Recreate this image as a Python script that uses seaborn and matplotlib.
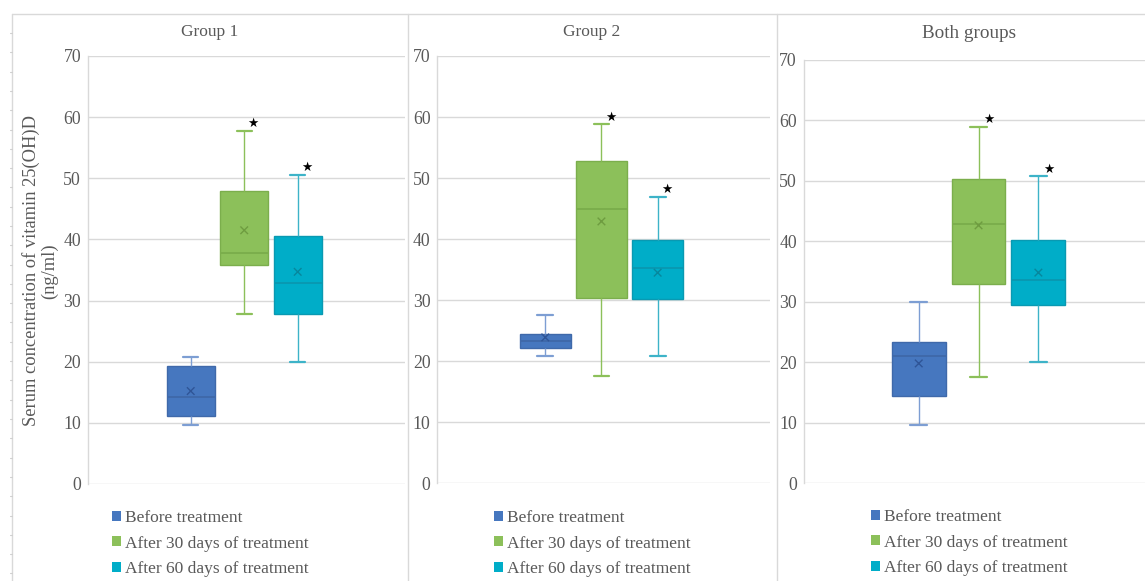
import numpy as np
import pandas as pd
import matplotlib
matplotlib.use("Agg")
import matplotlib.pyplot as plt
from matplotlib.patches import Patch
from matplotlib.lines import Line2D
import seaborn as sns

# ---------------- data ----------------
panels = ["Group 1", "Group 2", "Both groups"]
treatments = ["Before treatment", "After 30 days of treatment", "After 60 days of treatment"]

# five-number summaries: [min, Q1, median, Q3, max]
g1_before = [9.7, 11.2, 14.3, 19.3, 20.8]
g1_day30 = [27.8, 35.8, 37.7, 47.9, 57.8]
g1_day60 = [19.9, 27.8, 32.8, 40.5, 50.5]

g2_before = [20.9, 22.2, 23.3, 24.5, 27.5]
g2_day30 = [17.5, 30.3, 44.9, 52.8, 58.8]
g2_day60 = [20.9, 30.2, 35.3, 39.9, 46.9]

both_before = [9.7, 14.4, 21.0, 23.4, 30.0]
both_day30 = [17.5, 32.9, 42.8, 50.2, 58.9]
both_day60 = [20.0, 29.4, 33.5, 40.2, 50.7]

# means (the "x" markers)
g1_means = [15.2, 41.5, 34.7]
g2_means = [23.9, 42.9, 34.5]
both_means = [19.8, 42.6, 34.8]

# significance stars (only on treated series)
stars = [False, True, True]

y_ticks = [0, 10, 20, 30, 40, 50, 60, 70]

# ---------------- style ----------------
sns.set_theme(style="white")
plt.rcParams["font.family"] = ["Liberation Serif", "DejaVu Sans"]

fills = ["#4677BF", "#8CC05A", "#00ADC8"]
edges = ["#3F69AA", "#7BAE4C", "#0999B2"]
whisk = ["#7D9ED3", "#8CC05A", "#3DB3C8"]
meanc = ["#2F5597", "#6E9C40", "#07879D"]
txt = "#595959"
grid = "#D9D9D9"

W, H = 1145, 581
fig = plt.figure(figsize=(W / 100, H / 100), dpi=100)

def px_rect(left, top, right, bottom):
    return [left / W, 1 - bottom / H, (right - left) / W, (bottom - top) / H]

axes_px = [
    (88, 56, 404.7, 484),
    (437.4, 56, 770, 483.3),
    (803.9, 59.5, 1158, 483.3),
]
title_px = [(210, 31.5, 12.5), (592, 31.5, 12.5), (969, 33, 13.8)]
legend_px = [(112, 507), (494, 507), (871, 506)]

data_sets = [
    ([g1_before, g1_day30, g1_day60], g1_means),
    ([g2_before, g2_day30, g2_day60], g2_means),
    ([both_before, both_day30, both_day60], both_means),
]

for p, (summ, means) in enumerate(data_sets):
    ax = fig.add_axes(px_rect(*axes_px[p]))
    rows = []
    for t, vals in zip(treatments, summ):
        for v in vals:
            rows.append({"treatment": t, "value": v})
    df = pd.DataFrame(rows)
    for i, t in enumerate(treatments):
        sub = df[df["treatment"] == t]
        sns.boxplot(
            data=sub, x="treatment", y="value", order=treatments,
            color=fills[i], linecolor=edges[i], linewidth=1.0,
            whis=(0, 100), width=0.9, saturation=1, fliersize=0, ax=ax,
            medianprops=dict(color=edges[i], linewidth=1.4),
            whiskerprops=dict(color=whisk[i], linewidth=1.0),
            capprops=dict(color=whisk[i], linewidth=1.6),
            boxprops=dict(edgecolor=edges[i]),
        )
    # shorten caps to match reference
    for ln in ax.lines:
        xd = np.asarray(ln.get_xdata(), dtype=float)
        yd = np.asarray(ln.get_ydata(), dtype=float)
        if len(xd) == 2 and yd[0] == yd[1] and abs(xd[1] - xd[0]) > 0.3 and abs(xd[1] - xd[0]) < 0.6:
            c = xd.mean()
            ln.set_xdata([c - 0.14, c + 0.14])
    sns.scatterplot(x=np.arange(len(treatments)), y=means, hue=treatments,
                    palette=meanc, marker="x", s=30, linewidth=1.0,
                    legend=False, ax=ax, zorder=5)
    for i, vals in enumerate(summ):
        if stars[i]:
            ax.text(i + 0.17, max(vals) + 1.2, "\u2605", fontsize=9,
                    family=["DejaVu Sans"], ha="center", va="center", color="black")
    ax.set_xlim(-1.92, 4.0)
    ax.set_ylim(0, 70)
    ax.set_yticks(y_ticks)
    ax.set_yticklabels([str(v) for v in y_ticks])
    ax.set_xticks([])
    ax.set_xlabel("")
    ax.set_ylabel("")
    ax.grid(axis="y", color=grid, linewidth=1.0)
    ax.set_axisbelow(True)
    for s in ["top", "right", "bottom"]:
        ax.spines[s].set_visible(False)
    ax.spines["left"].set_color(grid)
    ax.spines["left"].set_linewidth(1.0)
    ax.tick_params(axis="y", length=0, pad=5, labelsize=12.8, labelcolor=txt)
    ax.set_facecolor("none")

    tx, ty, ts = title_px[p]
    fig.text(tx / W, 1 - ty / H, panels[p], ha="center", va="center",
             fontsize=ts, color=txt)

    handles = [Patch(facecolor=fills[i], edgecolor="none") for i in range(3)]
    lx, ly = legend_px[p]
    fig.legend(handles, treatments, loc="upper left",
               bbox_to_anchor=(lx / W, 1 - (ly + 3) / H), frameon=False,
               fontsize=12.5, handlelength=0.5, handleheight=0.5,
               handletextpad=0.25, labelspacing=0.55, borderpad=0,
               borderaxespad=0, labelcolor=txt)

fig.text(40 / W, 1 - 271 / H, "Serum concentration of vitamin 25(OH)D\n(ng/ml)",
         rotation=90, ha="center", va="center", multialignment="center",
         fontsize=13.3, color=txt, linespacing=1.05)

# panel frames
frame_kw = dict(color=grid, linewidth=1.0, transform=fig.transFigure)
fig.add_artist(Line2D([12 / W, 1], [1 - 14 / H, 1 - 14 / H], **frame_kw))
for xv in [12, 408, 777]:
    fig.add_artist(Line2D([xv / W, xv / W], [0, 1 - 14 / H], **frame_kw))
# small ruler ticks on the left frame
for yv in np.arange(33, H, 19.3):
    fig.add_artist(Line2D([9.5 / W, 12 / W], [1 - yv / H, 1 - yv / H],
                          color="#D0D0D0", linewidth=0.8, transform=fig.transFigure))

fig.savefig("out.png", dpi=100)
